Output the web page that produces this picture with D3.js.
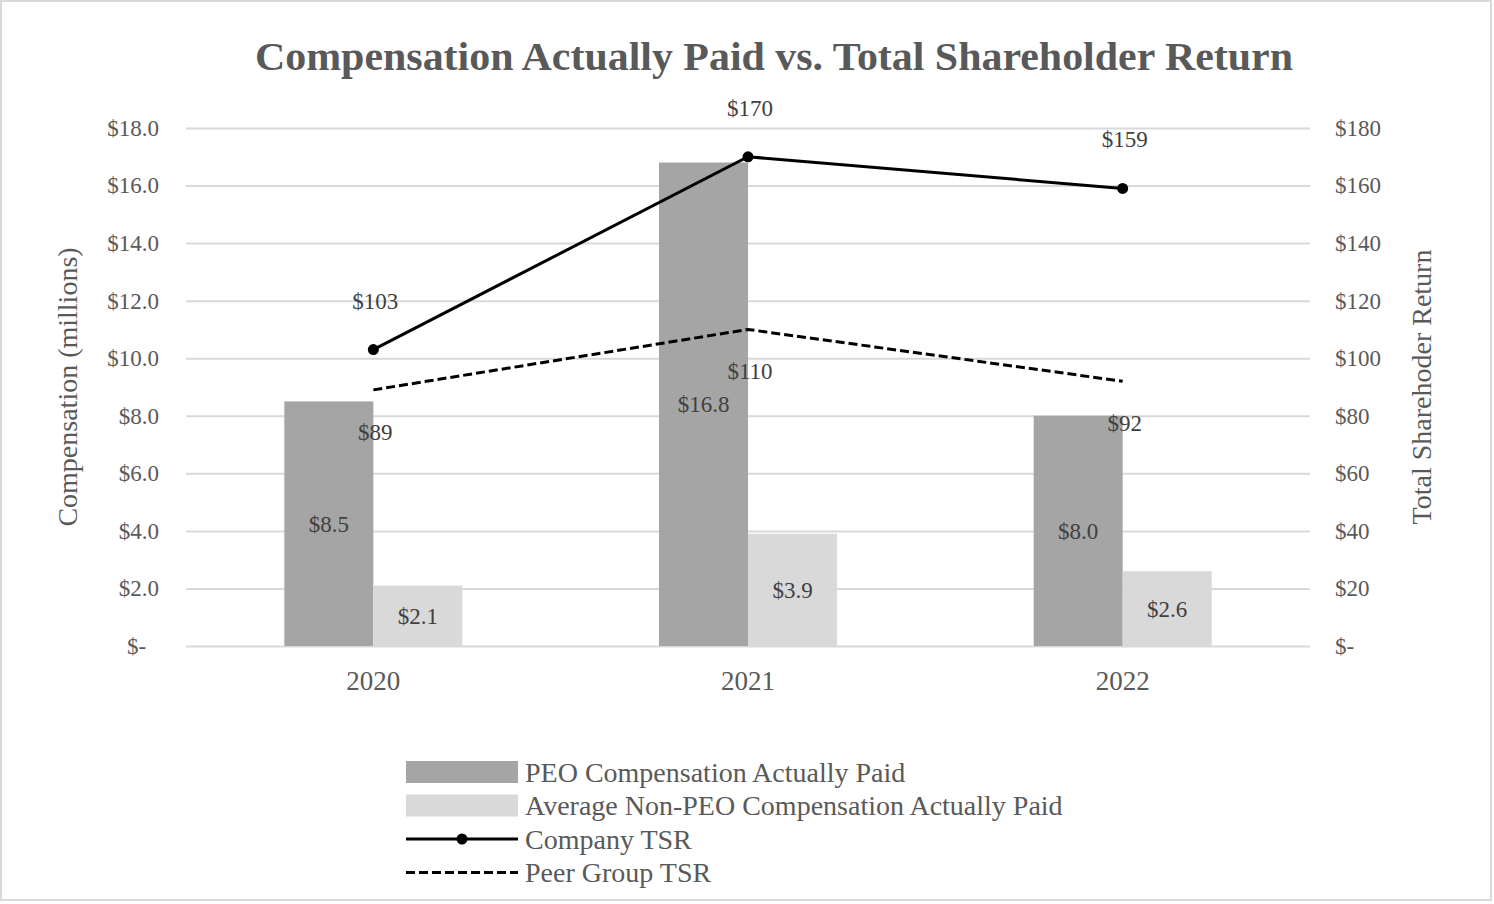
<!DOCTYPE html>
<html>
<head>
<meta charset="utf-8">
<script src="https://cdn.jsdelivr.net/npm/d3@7/dist/d3.min.js"></script>
<style>
  body { margin: 0; background: #fff; }
  svg text { font-family: "Liberation Serif", "Times New Roman", serif; }
</style>
</head>
<body>
<div id="chart"></div>
<script>
// data
var years        = ['2020', '2021', '2022'];
var peoPaid      = [8.5, 16.8, 8.0];
var nonPeoPaid   = [2.1, 3.9, 2.6];
var companyTSR   = [103, 170, 159];
var peerTSR      = [89, 110, 92];
var leftTicks    = [0, 2, 4, 6, 8, 10, 12, 14, 16, 18];
var rightTicks   = [0, 20, 40, 60, 80, 100, 120, 140, 160, 180];
var legendNames  = ['PEO Compensation Actually Paid',
                    'Average Non-PEO Compensation Actually Paid',
                    'Company TSR',
                    'Peer Group TSR'];

var W = 1494, H = 904;
var plot = { left: 186, right: 1310, top: 128, bottom: 646 };
var axisColor = '#595959';
var gridColor = '#d9d9d9';

var svg = d3.select('#chart').append('svg')
    .attr('width', W)
    .attr('height', H);

// outer border
svg.append('rect')
    .attr('x', 1).attr('y', 1)
    .attr('width', 1490).attr('height', 899)
    .attr('fill', 'none')
    .attr('stroke', gridColor)
    .attr('stroke-width', 2);

var x = d3.scaleBand().domain(years).range([plot.left, plot.right]);
var yL = d3.scaleLinear().domain([0, 18]).range([plot.bottom, plot.top]);
var yR = d3.scaleLinear().domain([0, 180]).range([plot.bottom, plot.top]);

var barW = 89;
var cx = function(d) { return x(d) + x.bandwidth() / 2; };

// title
svg.append('text')
    .attr('x', 774).attr('y', 70)
    .attr('text-anchor', 'middle')
    .attr('font-size', 41)
    .attr('font-weight', 'bold')
    .attr('fill', axisColor)
    .attr('textLength', 1038)
    .attr('lengthAdjust', 'spacingAndGlyphs')
    .text('Compensation Actually Paid vs. Total Shareholder Return');

// grid lines
svg.append('g')
    .attr('transform', 'translate(' + plot.left + ',0)')
    .call(d3.axisLeft(yL).tickValues(leftTicks).tickFormat('').tickSize(-(plot.right - plot.left)))
    .call(function(g) {
        g.select('.domain').remove();
        g.selectAll('line').attr('stroke', gridColor).attr('stroke-width', 2);
    });

// left axis labels
svg.append('g')
    .attr('transform', 'translate(' + plot.left + ',0)')
    .call(d3.axisLeft(yL).tickValues(leftTicks).tickSize(0).tickPadding(27)
        .tickFormat(function(d) { return d === 0 ? '$-' : '$' + d.toFixed(1); }))
    .call(function(g) {
        g.select('.domain').remove();
        g.selectAll('text').attr('font-size', 23).attr('fill', axisColor)
            .attr('font-family', '"Liberation Serif", serif');
        g.selectAll('text').filter(function(d) { return d === 0; })
            .attr('text-anchor', 'start').attr('x', -59);
    });

// right axis labels
svg.append('g')
    .attr('transform', 'translate(' + plot.right + ',0)')
    .call(d3.axisRight(yR).tickValues(rightTicks).tickSize(0).tickPadding(25)
        .tickFormat(function(d) { return d === 0 ? '$-' : '$' + d; }))
    .call(function(g) {
        g.select('.domain').remove();
        g.selectAll('text').attr('font-size', 23).attr('fill', axisColor)
            .attr('font-family', '"Liberation Serif", serif');
    });

// category labels
svg.append('g')
    .attr('transform', 'translate(0,' + plot.bottom + ')')
    .call(d3.axisBottom(x).tickSize(0).tickPadding(25))
    .call(function(g) {
        g.select('.domain').remove();
        g.selectAll('text').attr('font-size', 27).attr('fill', axisColor)
            .attr('font-family', '"Liberation Serif", serif');
    });

// axis titles
svg.append('text')
    .attr('transform', 'translate(77,' + (plot.top + plot.bottom) / 2 + ') rotate(-90)')
    .attr('text-anchor', 'middle')
    .attr('font-size', 28)
    .attr('fill', axisColor)
    .text('Compensation (millions)');

svg.append('text')
    .attr('transform', 'translate(1431,' + (plot.top + plot.bottom) / 2 + ') rotate(-90)')
    .attr('text-anchor', 'middle')
    .attr('font-size', 28)
    .attr('fill', axisColor)
    .text('Total Sharehoder Return');

// bars
var bars = [
    { vals: peoPaid,    color: '#a5a5a5', off: -barW },
    { vals: nonPeoPaid, color: '#d9d9d9', off: 0 }
];
bars.forEach(function(s) {
    svg.append('g').selectAll('rect')
        .data(years)
        .join('rect')
        .attr('x', function(d) { return cx(d) + s.off; })
        .attr('y', function(d, i) { return yL(s.vals[i]); })
        .attr('width', barW)
        .attr('height', function(d, i) { return yL(0) - yL(s.vals[i]); })
        .attr('fill', s.color);

    svg.append('g').selectAll('text')
        .data(years)
        .join('text')
        .attr('x', function(d) { return cx(d) + s.off + barW / 2; })
        .attr('y', function(d, i) { return (yL(s.vals[i]) + yL(0)) / 2; })
        .attr('dy', '0.35em')
        .attr('text-anchor', 'middle')
        .attr('font-size', 23)
        .attr('fill', '#404040')
        .text(function(d, i) { return '$' + s.vals[i].toFixed(1); });
});

// TSR lines
var line = d3.line()
    .x(function(d, i) { return cx(years[i]); })
    .y(function(d) { return yR(d); });

svg.append('path')
    .datum(peerTSR)
    .attr('fill', 'none')
    .attr('stroke', '#000')
    .attr('stroke-width', 3)
    .attr('stroke-dasharray', '9,4')
    .attr('d', line);

svg.append('path')
    .datum(companyTSR)
    .attr('fill', 'none')
    .attr('stroke', '#000')
    .attr('stroke-width', 3)
    .attr('d', line);

svg.append('g').selectAll('circle')
    .data(companyTSR)
    .join('circle')
    .attr('cx', function(d, i) { return cx(years[i]); })
    .attr('cy', function(d) { return yR(d); })
    .attr('r', 5.5)
    .attr('fill', '#000');

svg.append('g').selectAll('text')
    .data(companyTSR)
    .join('text')
    .attr('x', function(d, i) { return cx(years[i]) + 2; })
    .attr('y', function(d) { return yR(d) - 49; })
    .attr('dy', '0.35em')
    .attr('text-anchor', 'middle')
    .attr('font-size', 23)
    .attr('fill', '#404040')
    .text(function(d) { return '$' + d; });

svg.append('g').selectAll('text')
    .data(peerTSR)
    .join('text')
    .attr('x', function(d, i) { return cx(years[i]) + 2; })
    .attr('y', function(d) { return yR(d) + 42; })
    .attr('dy', '0.35em')
    .attr('text-anchor', 'middle')
    .attr('font-size', 23)
    .attr('fill', '#404040')
    .text(function(d) { return '$' + d; });

// legend
var legX = 406, legW = 112, legY = 772, legStep = 33.5;
var leg = svg.append('g');
legendNames.forEach(function(name, i) {
    var yy = legY + i * legStep;
    if (i < 2) {
        leg.append('rect')
            .attr('x', legX).attr('y', yy - 11)
            .attr('width', legW).attr('height', 22)
            .attr('fill', bars[i].color);
    } else {
        leg.append('line')
            .attr('x1', legX).attr('x2', legX + legW)
            .attr('y1', yy).attr('y2', yy)
            .attr('stroke', '#000')
            .attr('stroke-width', 3)
            .attr('stroke-dasharray', i === 3 ? '9,4' : null);
        if (i === 2)
            leg.append('circle')
                .attr('cx', legX + legW / 2).attr('cy', yy)
                .attr('r', 5.5).attr('fill', '#000');
    }
    leg.append('text')
        .attr('x', legX + legW + 7).attr('y', yy)
        .attr('dy', '0.35em')
        .attr('font-size', 28)
        .attr('fill', axisColor)
        .text(name);
});
</script>
</body>
</html>
